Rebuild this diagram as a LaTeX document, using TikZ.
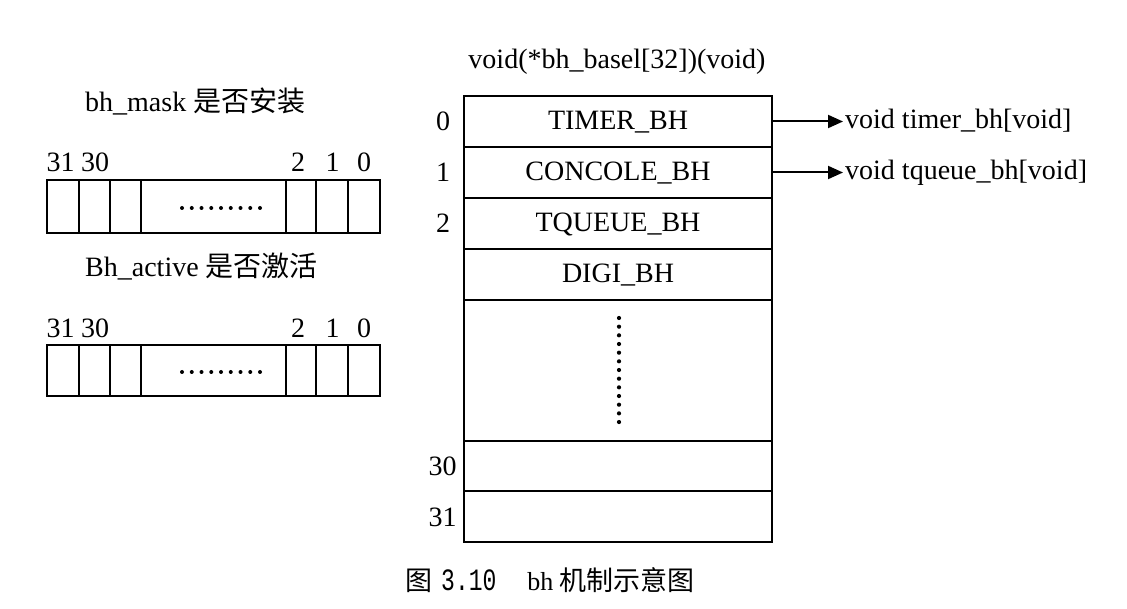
\documentclass[tikz,border=0pt]{standalone}
\usepackage{fontspec}
\setmainfont{Liberation Serif}
\newfontfamily\cjk{Noto Sans CJK SC}
\newfontfamily\capmono{Liberation Mono}
\usetikzlibrary{arrows.meta}
\begin{document}
\begin{tikzpicture}[x=1pt,y=-1pt,
  every node/.style={font=\fontsize{28}{32}\selectfont},
  row/.style={draw, line width=2.1pt, minimum width=308pt, inner sep=0pt, text height=22pt, text depth=5pt},
  idx/.style={inner sep=0pt, text height=24pt, text depth=5pt},
  lbl/.style={inner sep=0pt, anchor=base},
  regbox/.style={draw, line width=2.1pt},
  arr/.style={line width=2pt, -{Triangle[length=15pt,width=13pt]}},
  fn/.style={anchor=west, inner sep=2pt, text height=20pt, text depth=5pt}
]
\useasboundingbox (0,0) rectangle (1127,609);

% ---- left registers ----
\node[lbl, anchor=base west] (maskt) at (85,111.7) {bh\_mask {\cjk 是否安装}};
\node[lbl] (m31) at (60.5,172) {31};
\node[lbl] (m30) at (95,172) {30};
\node[lbl] (m2) at (298,172) {2};
\node[lbl] (m1) at (332.5,172) {1};
\node[lbl] (m0) at (364,172) {0};
\draw[regbox] (47,180) rectangle (380,233);
\foreach \x in {79,110,141,286,316,348} \draw[regbox] (\x,180) -- (\x,233);
\foreach \i in {0,...,8} \fill (182+\i*9.75,208) circle (2);

\node[lbl, anchor=base west] (actt) at (85,276.7) {Bh\_active {\cjk 是否激活}};
\node[lbl] (a31) at (60.5,338) {31};
\node[lbl] (a30) at (95,338) {30};
\node[lbl] (a2) at (298,338) {2};
\node[lbl] (a1) at (332.5,338) {1};
\node[lbl] (a0) at (364,338) {0};
\draw[regbox] (47,345) rectangle (380,396);
\foreach \x in {79,110,141,286,316,348} \draw[regbox] (\x,345) -- (\x,396);
\foreach \i in {0,...,8} \fill (182+\i*9.75,372) circle (2);

% ---- right table ----
\node[lbl] (title) at (617,69) {void(*bh\_basel[32])(void)};
\node[row, minimum height=51pt] (r0) at (618,121.5) {TIMER\_BH};
\node[row, minimum height=51pt] (r1) at (618,172.5) {CONCOLE\_BH};
\node[row, minimum height=51pt] (r2) at (618,223.5) {TQUEUE\_BH};
\node[row, minimum height=51pt] (r3) at (618,274.5) {DIGI\_BH};
\node[row, minimum height=141pt] (rd) at (618,370.5) {};
\node[row, minimum height=50pt] (r30) at (618,466) {};
\node[row, minimum height=51pt] (r31) at (618,516.5) {};
\foreach \i in {0,...,12} \fill (619,318+\i*8.67) circle (2.1);

\node[idx] (i0) at (443,121.5) {0};
\node[idx] (i1) at (443,172.5) {1};
\node[idx] (i2) at (443,223.5) {2};
\node[idx] (i30) at (442.5,466) {30};
\node[idx] (i31) at (442.5,516.5) {31};

\node[fn] (f0) at (843,121.5) {void timer\_bh[void]};
\node[fn] (f1) at (843,172.5) {void tqueue\_bh[void]};
\draw[arr] (r0.east) -- (f0.west);
\draw[arr] (r1.east) -- (f1.west);

% ---- caption ----
\node[anchor=base west, inner sep=0pt, font=\cjk\fontsize{27}{30}\selectfont] (cap) at (405,590)
  {图\hspace{9pt}\scalebox{1}[1.35]{\capmono\fontsize{23}{28}\selectfont 3.10}\hspace{31pt}{\rmfamily\fontsize{26}{30}\selectfont bh}\hspace{6pt}机制示意图};
\end{tikzpicture}
\end{document}
